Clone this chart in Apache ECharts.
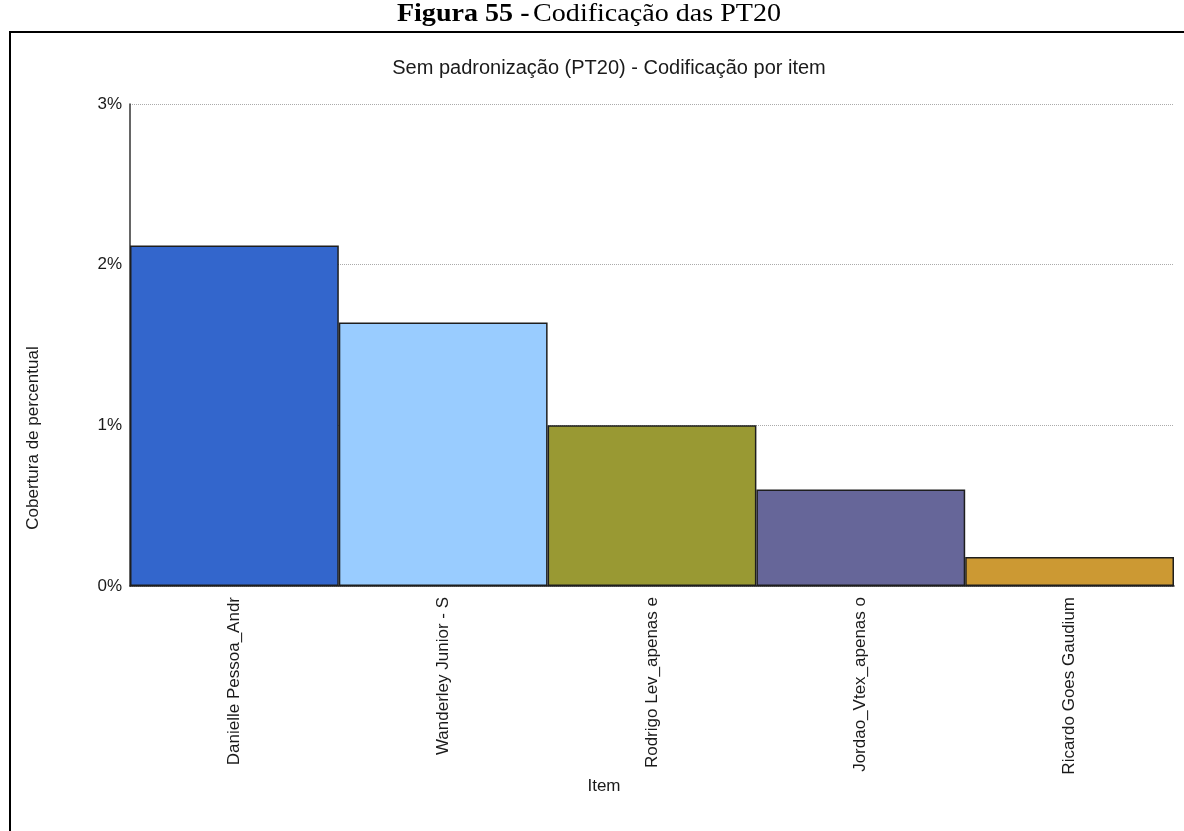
<!DOCTYPE html>
<html>
<head>
<meta charset="utf-8">
<title>Codificação das PT20</title>
<script src="https://cdn.jsdelivr.net/npm/echarts@6/dist/echarts.min.js"></script>
<style>
  html, body { margin: 0; padding: 0; background: #fff; }
  #chart { width: 1184px; height: 831px; }
</style>
</head>
<body>
<div id="chart"></div>
<script>
// Coverage (%) coded per item
const items = [
  'Danielle Pessoa_Andr',
  'Wanderley Junior - S',
  'Rodrigo Lev_apenas e',
  'Jordao_Vtex_apenas o',
  'Ricardo Goes Gaudium'
];
const coverage = [2.12, 1.64, 1.0, 0.6, 0.18];
const yTicks = [0, 1, 2, 3];

const palette = ['#3366CC', '#99CCFF', '#999933', '#666699', '#CC9933'];
const sans = '"Liberation Sans", Arial, sans-serif';
const serif = '"Liberation Serif", "Times New Roman", serif';

const chart = echarts.init(document.getElementById('chart'), null, { renderer: 'canvas' });

chart.setOption({
  animation: false,
  backgroundColor: '#fff',
  color: palette,
  title: {
    text: 'Sem padronização (PT20) - Codificação por item',
    left: 604,
    textAlign: 'center',
    top: 53,
    textStyle: { fontFamily: sans, fontSize: 20, fontWeight: 'normal', color: '#1a1a1a' }
  },
  grid: { left: 130, right: 10, top: 104, bottom: 245, containLabel: false },
  xAxis: {
    type: 'category',
    data: items,
    axisLine: { show: true, lineStyle: { color: '#222', width: 1.5 } },
    axisTick: { show: false },
    axisLabel: {
      rotate: 90,
      margin: 11,
      interval: 0,
      fontFamily: sans,
      fontSize: 17,
      color: '#1a1a1a'
    },
    splitLine: { show: false }
  },
  yAxis: {
    type: 'value',
    min: yTicks[0],
    max: yTicks[yTicks.length - 1],
    interval: 1,
    axisLine: { show: true, lineStyle: { color: '#333', width: 1.5 } },
    axisTick: { show: false },
    axisLabel: {
      formatter: '{value}%',
      margin: 8,
      fontFamily: sans,
      fontSize: 17,
      color: '#1a1a1a'
    },
    splitLine: { show: true, lineStyle: { color: '#aaa', type: [1, 1], width: 1 } }
  },
  series: [{
    type: 'bar',
    data: coverage,
    colorBy: 'data',
    barCategoryGap: 0,
    itemStyle: { borderColor: '#1e1e1e', borderWidth: 1.5 }
  }],
  graphic: [
    {
      // figure caption above the framed chart
      type: 'text',
      x: 589,
      y: 14,
      scaleX: 1.08,
      scaleY: 1.0,
      style: {
        rich: {
          b: { fontFamily: serif, fontSize: 26, fontWeight: 'bold', fill: '#000' },
          r: { fontFamily: serif, fontSize: 26, fill: '#000' }
        },
        text: '{b|Figura 55 -} {r|Codificação das PT20}',
        align: 'center',
        verticalAlign: 'middle'
      }
    },
    {
      type: 'polyline',
      shape: { points: [[1184, 32], [10, 32], [10, 831]] },
      style: { stroke: '#000', lineWidth: 2, fill: null },
      silent: true
    },
    {
      type: 'text',
      x: 33,
      y: 438,
      rotation: Math.PI / 2,
      style: {
        text: 'Cobertura de percentual',
        fontFamily: sans,
        fontSize: 17,
        fill: '#1a1a1a',
        align: 'center',
        verticalAlign: 'middle'
      }
    },
    {
      type: 'text',
      x: 604,
      y: 786,
      style: {
        text: 'Item',
        fontFamily: sans,
        fontSize: 17,
        fill: '#1a1a1a',
        align: 'center',
        verticalAlign: 'middle'
      }
    }
  ]
});
</script>
</body>
</html>
